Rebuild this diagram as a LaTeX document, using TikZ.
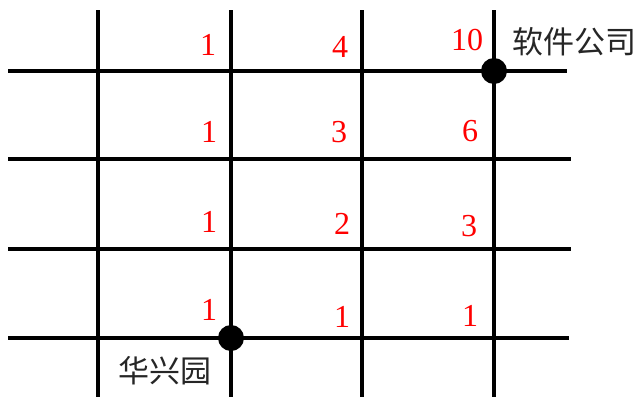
\documentclass[tikz,border=0pt]{standalone}
\usepackage{fontspec}
\setmainfont{Liberation Serif}
\newfontfamily\cjk{Noto Sans CJK SC}
\begin{document}
\begin{tikzpicture}[x=1pt,y=-1pt,
  gridline/.style={line width=3.2pt,black},
  dot/.style={circle,fill=black,inner sep=0pt,minimum size=26pt},
  num/.style={text=red,font=\fontsize{32}{32}\selectfont,inner sep=0pt},
  place/.style={text=black!85,font=\cjk\fontsize{31}{31}\selectfont,inner sep=0pt}]
\useasboundingbox (0,0) rectangle (640,397);
% vertical lines
\coordinate (v1t) at (98,10);  \coordinate (v1b) at (98,397);
\coordinate (v2t) at (231,10); \coordinate (v2b) at (231,397);
\coordinate (v3t) at (362,10); \coordinate (v3b) at (362,397);
\coordinate (v4t) at (494,10); \coordinate (v4b) at (494,397);
\draw[gridline] (v1t) -- (v1b);
\draw[gridline] (v2t) -- (v2b);
\draw[gridline] (v3t) -- (v3b);
\draw[gridline] (v4t) -- (v4b);
% horizontal lines
\coordinate (h1l) at (8,71);  \coordinate (h1r) at (567,71);
\coordinate (h2l) at (8,159); \coordinate (h2r) at (571,159);
\coordinate (h3l) at (8,249); \coordinate (h3r) at (571,249);
\coordinate (h4l) at (8,338); \coordinate (h4r) at (569,338);
\draw[gridline] (h1l) -- (h1r);
\draw[gridline] (h2l) -- (h2r);
\draw[gridline] (h3l) -- (h3r);
\draw[gridline] (h4l) -- (h4r);
% dots
\node[dot] (soft) at (494,71) {};
\node[dot] (hx) at (231,338) {};
% place labels
\node[place] (softlbl) at (574,42) {软件公司};
\node[place] (hxlbl) at (165,371) {华兴园};
% numbers
\node[num] (n11) at (208,45) {1};
\node[num] (n12) at (340,47) {4};
\node[num] (n13) at (467,40) {10};
\node[num] (n21) at (209,132) {1};
\node[num] (n22) at (339,132) {3};
\node[num] (n23) at (470,131) {6};
\node[num] (n31) at (209,222) {1};
\node[num] (n32) at (342,224) {2};
\node[num] (n33) at (469,226) {3};
\node[num] (n41) at (209,310) {1};
\node[num] (n42) at (342,317) {1};
\node[num] (n43) at (470,316) {1};
\end{tikzpicture}
\end{document}
